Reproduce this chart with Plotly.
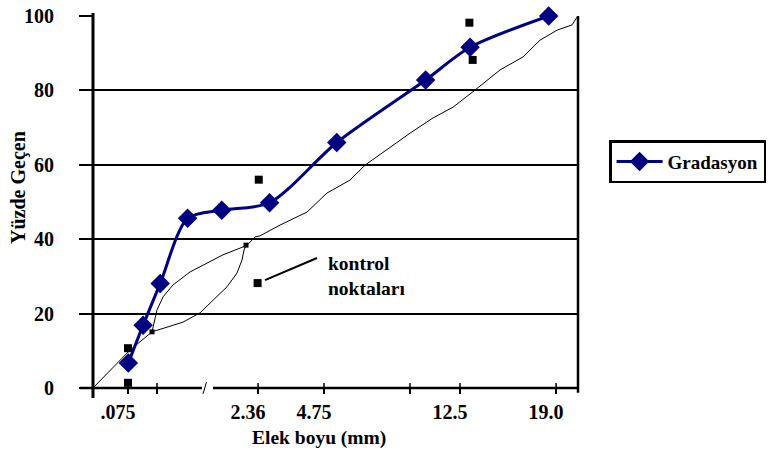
import plotly.graph_objects as go

# Positions on the horizontal axis are in sieve-size^0.45 units (0.45 power chart)
x_gradasyon = [0.31, 0.44, 0.59, 0.83, 1.13, 1.55, 2.14, 2.92, 3.31, 4.00]
y_gradasyon = [6.7, 16.9, 28.1, 45.6, 47.8, 49.8, 66.0, 82.8, 91.6, 100.0]

# Maximum density line (runs along the upper edge of the restricted zone)
x_maks = [0, 0.149, 0.325, 0.518, 0.562, 0.615, 0.702, 0.852, 1.001, 1.141, 1.291,
          1.352, 1.422, 1.466, 1.642, 1.879, 2.054, 2.256, 2.388, 2.546, 2.783,
          2.985, 3.161, 3.354, 3.573, 3.775, 3.924, 4.074, 4.205, 4.232, 4.258]
y_maks = [0, 4.8, 10.2, 15.1, 21.0, 24.5, 27.7, 31.2, 33.6, 35.8, 37.6,
          38.4, 40.6, 40.9, 43.8, 47.3, 52.4, 55.9, 59.9, 63.4, 68.5,
          72.6, 75.5, 80.1, 85.5, 89.0, 93.5, 96.2, 97.6, 98.9, 100.0]

# Lower edge of the restricted zone
x_bolge_alt = [0.518, 0.650, 0.790, 0.939, 1.054, 1.176, 1.264, 1.308, 1.326, 1.343]
y_bolge_alt = [15.1, 16.4, 17.7, 20.2, 23.7, 27.2, 30.9, 34.4, 37.1, 38.4]

# Restricted zone corners
x_bolge_uc = [0.518, 1.343]
y_bolge_uc = [15.1, 38.4]

# Control points
x_kontrol = [0.307, 0.307, 1.455, 1.445, 3.304, 3.333]
y_kontrol = [10.7, 1.4, 56.0, 28.2, 98.2, 88.2]

# Sieve ticks
x_tick_vals = [0.307, 0.562, 1.449, 2.028, 2.783, 3.222, 4.065]
x_tick_text = [".075", "", "2.36", "4.75", "", "12.5", "19.0"]
y_tick_vals = [0, 20, 40, 60, 80, 100]

X_MAX = 4.2575
SERIF = "Liberation Serif, Times New Roman, serif"
BLUE = "#000080"

fig = go.Figure()

fig.add_trace(go.Scatter(
    x=x_maks, y=y_maks, mode="lines",
    line=dict(color="black", width=1), showlegend=False, hoverinfo="skip"))
fig.add_trace(go.Scatter(
    x=x_bolge_alt, y=y_bolge_alt, mode="lines",
    line=dict(color="black", width=1), showlegend=False, hoverinfo="skip"))
fig.add_trace(go.Scatter(
    x=x_bolge_uc, y=y_bolge_uc, mode="markers",
    marker=dict(symbol="square", size=5, color="black"), showlegend=False))
fig.add_trace(go.Scatter(
    x=x_kontrol, y=y_kontrol, mode="markers", cliponaxis=False,
    marker=dict(symbol="square", size=8, color="black"), showlegend=False))
fig.add_trace(go.Scatter(
    x=x_gradasyon, y=y_gradasyon, mode="lines+markers", name="Gradasyon",
    cliponaxis=False,
    line=dict(color=BLUE, width=3, shape="spline", smoothing=0.8),
    marker=dict(symbol="diamond", size=15, color=BLUE)))

shapes = []
# left axis line, slightly longer than the plot area
shapes.append(dict(type="line", xref="paper", yref="paper", x0=0, x1=0,
                   y0=-0.027, y1=1.008, line=dict(color="black", width=3)))
# right border
shapes.append(dict(type="line", xref="paper", yref="paper", x0=1, x1=1,
                   y0=-0.013, y1=1.0, line=dict(color="black", width=2.5)))
# horizontal axis with a break
shapes.append(dict(type="line", xref="paper", yref="paper", x0=-0.027, x1=0.2247,
                   y0=0, y1=0, line=dict(color="black", width=2.5)))
shapes.append(dict(type="line", xref="paper", yref="paper", x0=0.2474, x1=1,
                   y0=0, y1=0, line=dict(color="black", width=2.5)))
shapes.append(dict(type="line", xref="paper", yref="paper", x0=0.2268, x1=0.2340,
                   y0=-0.016, y1=0.016, line=dict(color="black", width=1)))
# upper half of the crossing x ticks
for tv in x_tick_vals:
    shapes.append(dict(type="line", xref="x", yref="y", ysizemode="pixel", yanchor=0,
                       x0=tv, x1=tv, y0=0, y1=5, line=dict(color="black", width=1.5)))
# leader line for the control point note
shapes.append(dict(type="line", xref="paper", yref="paper", x0=0.3546, y0=0.290,
                   x1=0.4619, y1=0.3495, line=dict(color="black", width=2)))

annotations = [
    dict(text="Elek boyu (mm)", xref="paper", yref="paper", x=0.466, y=-0.134,
         showarrow=False, xanchor="center", yanchor="middle",
         font=dict(family=SERIF, size=19.5, color="black", weight="bold")),
    dict(text="Yüzde Geçen", xref="paper", yref="paper", x=-0.155, y=0.54,
         showarrow=False, textangle=-90, xanchor="center", yanchor="middle",
         font=dict(family=SERIF, size=20, color="black", weight="bold")),
    dict(text="kontrol<br>noktaları", xref="paper", yref="paper", x=0.480, y=0.302,
         showarrow=False, xanchor="left", yanchor="middle", align="left",
         font=dict(family=SERIF, size=19.5, color="black", weight="bold")),
]

fig.update_layout(
    width=771, height=455,
    margin=dict(l=93, r=193, t=16, b=67, autoexpand=False),
    paper_bgcolor="white", plot_bgcolor="white",
    font=dict(family=SERIF, color="black"),
    shapes=shapes, annotations=annotations,
    legend=dict(xref="container", yref="container", x=0.790, y=0.692,
                xanchor="left", yanchor="top",
                bordercolor="black", borderwidth=2.5, bgcolor="white",
                itemwidth=46,
                font=dict(family=SERIF, size=19, color="black", weight="bold")),
    xaxis=dict(range=[0, X_MAX], tickmode="array", tickvals=x_tick_vals,
               ticktext=x_tick_text, ticks="outside", ticklen=5, tickwidth=1.5,
               tickcolor="black", showgrid=False, zeroline=False, showline=False,
               ticklabelshift=-10, ticklabelstandoff=1,
               tickfont=dict(family=SERIF, size=20, color="black", weight="bold")),
    yaxis=dict(range=[0, 100], tickmode="array", tickvals=y_tick_vals,
               ticks="outside", ticklen=13, tickwidth=2, tickcolor="black",
               showgrid=True, gridcolor="black", gridwidth=2,
               zeroline=False, showline=False, ticklabelstandoff=21,
               tickfont=dict(family=SERIF, size=20, color="black", weight="bold")),
)

fig.write_html("out.html")
